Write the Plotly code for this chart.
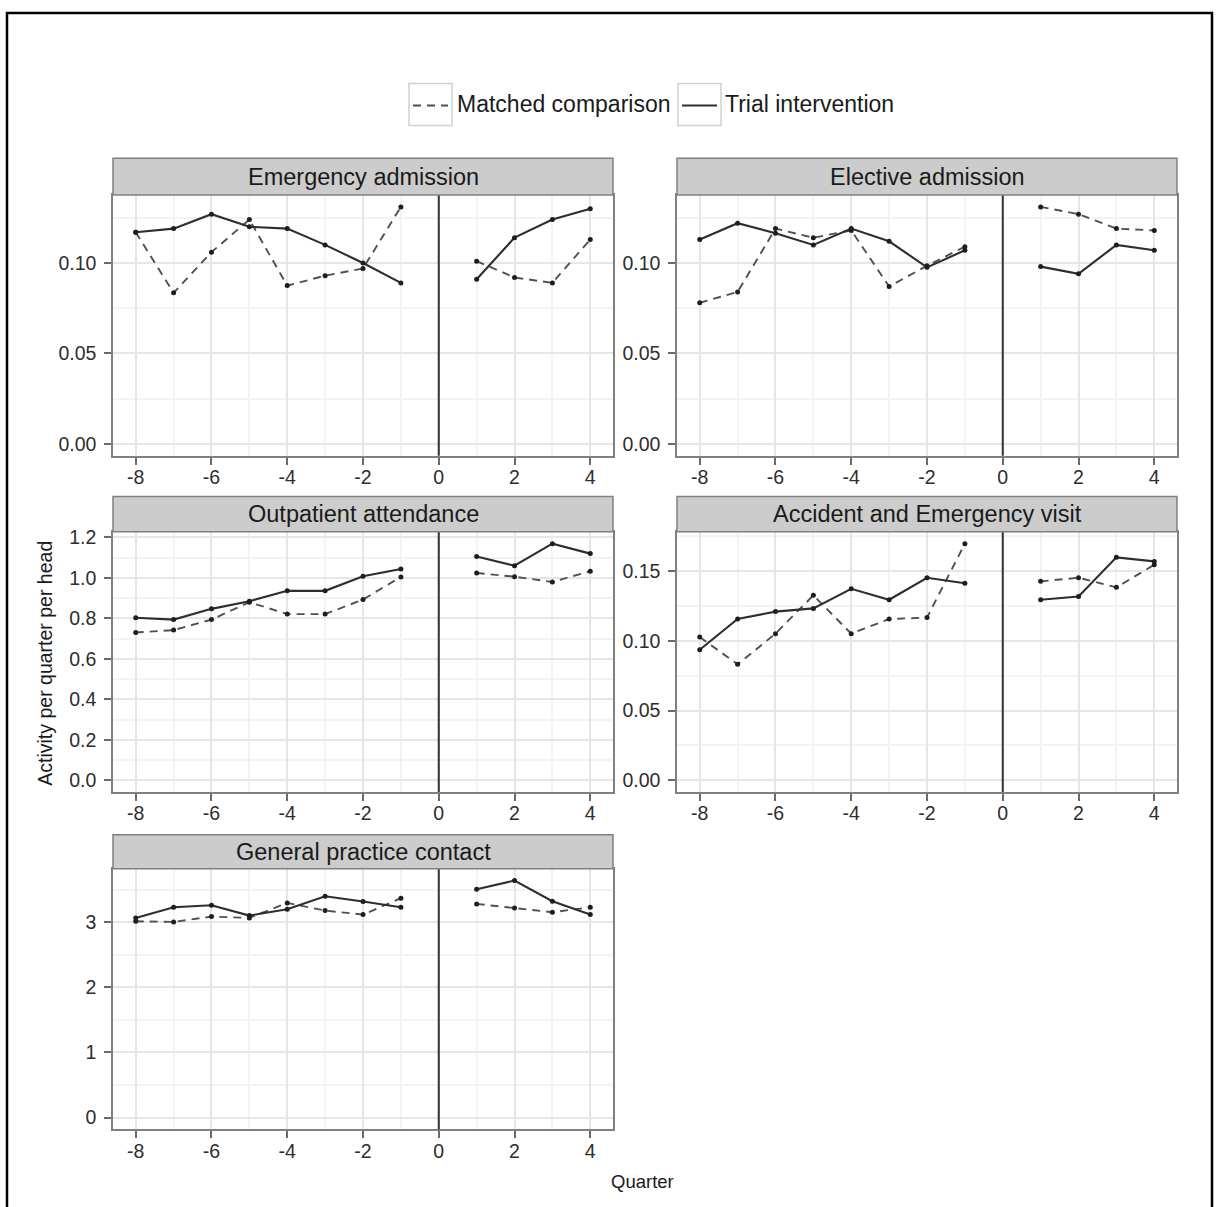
import plotly.graph_objects as go

# Canvas size in pixels
W, H = 1220, 1207

# ---- data -------------------------------------------------------------
# Quarter relative to start of intervention (no quarter 0)
quarters = [-8, -7, -6, -5, -4, -3, -2, -1, 1, 2, 3, 4]

series_names = ["Matched comparison", "Trial intervention"]

panel_titles = [
    "Emergency admission",
    "Elective admission",
    "Outpatient attendance",
    "Accident and Emergency visit",
    "General practice contact",
]

emergency_trial = [0.117, 0.119, 0.127, 0.120, 0.119, 0.110, 0.100, 0.089, 0.091, 0.114, 0.124, 0.130]
emergency_matched = [0.117, 0.0835, 0.106, 0.124, 0.0875, 0.093, 0.097, 0.131, 0.101, 0.092, 0.089, 0.113]

elective_trial = [0.113, 0.122, 0.1165, 0.110, 0.119, 0.112, 0.0976, 0.107, 0.098, 0.094, 0.110, 0.107]
elective_matched = [0.078, 0.084, 0.119, 0.114, 0.118, 0.087, 0.0985, 0.109, 0.131, 0.127, 0.119, 0.118]

outpatient_trial = [0.803, 0.794, 0.847, 0.885, 0.936, 0.936, 1.008, 1.044, 1.106, 1.060, 1.169, 1.120]
outpatient_matched = [0.730, 0.742, 0.794, 0.880, 0.821, 0.821, 0.893, 1.005, 1.024, 1.006, 0.980, 1.033]

ae_trial = [0.0936, 0.1156, 0.1209, 0.1232, 0.1373, 0.1294, 0.1452, 0.1412, 0.1294, 0.1318, 0.1598, 0.1569]
ae_matched = [0.1027, 0.0831, 0.1051, 0.1326, 0.1051, 0.1156, 0.1166, 0.1696, 0.1426, 0.1452, 0.1383, 0.1545]

gp_trial = [3.067, 3.231, 3.262, 3.103, 3.200, 3.400, 3.318, 3.231, 3.508, 3.641, 3.323, 3.118]
gp_matched = [3.015, 3.005, 3.087, 3.067, 3.297, 3.179, 3.118, 3.369, 3.282, 3.221, 3.154, 3.231]

x_ticks = [-8, -6, -4, -2, 0, 2, 4]

# ---- styling ----------------------------------------------------------
FONT = "Liberation Sans, Arial, Helvetica, sans-serif"
TEXT = "#2e2e2e"
BORDER = "#808080"
GRID_MAJOR = "#e6e6e6"
GRID_MINOR = "#f3f3f3"

def px(xp):
    return xp / W

def py(yp):
    return 1 - yp / H

# column pixel extents, row pixel extents (strip top, plot top, plot bottom)
cols = [(113, 613), (677, 1177)]
rows = [(153, 190, 452), (493, 528.5, 790), (833, 867, 1129)]

# title, trial, matched, dtick, format, minor dtick, row, col
panels = [
    (panel_titles[0], emergency_trial, emergency_matched, 0.05, ".2f", 0.025, 0, 0),
    (panel_titles[1], elective_trial, elective_matched, 0.05, ".2f", 0.025, 0, 1),
    (panel_titles[2], outpatient_trial, outpatient_matched, 0.2, ".1f", 0.1, 1, 0),
    (panel_titles[3], ae_trial, ae_matched, 0.05, ".2f", 0.025, 1, 1),
    (panel_titles[4], gp_trial, gp_matched, 1, "d", 0.5, 2, 0),
]


def with_gap(vals):
    """Insert quarter 0 as a break so lines are drawn before/after separately."""
    xs = quarters[:8] + [0] + quarters[8:]
    ys = list(vals[:8]) + [None] + list(vals[8:])
    return xs, ys


fig = go.Figure()
shapes = []
annotations = []
layout_axes = {}

for i, (title, trial, matched, dtick, fmt, mdtick, r, c) in enumerate(panels, start=1):
    xa = "x" if i == 1 else f"x{i}"
    ya = "y" if i == 1 else f"y{i}"
    x0p, x1p = cols[c]
    s_top, p_top, p_bot = rows[r]

    # y-range: include zero, pad 5% each side
    lo = min(0, min(trial), min(matched))
    hi = max(max(trial), max(matched))
    pad = (hi - lo) * 0.05
    yrange = [lo - pad, hi + pad]

    common_axis = dict(
        showline=True, mirror=True, linecolor=BORDER, linewidth=1.5,
        ticks="outside", ticklen=7, tickwidth=1.5, tickcolor="#6a6a6a",
        showgrid=True, gridcolor=GRID_MAJOR, gridwidth=1.5,
        zeroline=False,
        tickfont=dict(family=FONT, size=19.5, color=TEXT),
    )

    layout_axes["xaxis" if i == 1 else f"xaxis{i}"] = dict(
        domain=[px(x0p), px(x1p)], anchor=ya, range=[-8.6, 4.6],
        tickmode="array", tickvals=x_ticks, ticktext=[str(t) for t in x_ticks],
        minor=dict(dtick=1, tick0=0, showgrid=True, gridcolor=GRID_MINOR, gridwidth=1.5),
        ticklabelstandoff=-4,
        **common_axis,
    )
    layout_axes["yaxis" if i == 1 else f"yaxis{i}"] = dict(
        domain=[py(p_bot), py(p_top)], anchor=xa, range=yrange,
        tick0=0, dtick=dtick, tickformat=fmt,
        minor=dict(dtick=mdtick, tick0=0, showgrid=True, gridcolor=GRID_MINOR, gridwidth=1.5),
        ticklabelstandoff=4,
        **common_axis,
    )

    # matched comparison (dashed)
    xs, ys = with_gap(matched)
    fig.add_trace(go.Scatter(
        x=xs, y=ys, xaxis=xa, yaxis=ya, mode="lines+markers",
        name=series_names[0], showlegend=False, connectgaps=False,
        line=dict(color="#505050", width=1.9, dash="8px,6px"),
        marker=dict(color="#1e1e1e", size=5),
    ))
    # trial intervention (solid)
    xs, ys = with_gap(trial)
    fig.add_trace(go.Scatter(
        x=xs, y=ys, xaxis=xa, yaxis=ya, mode="lines+markers",
        name=series_names[1], showlegend=False, connectgaps=False,
        line=dict(color="#2e2e2e", width=2.1),
        marker=dict(color="#1e1e1e", size=5),
    ))

    # intervention start marker line at quarter 0
    shapes.append(dict(
        type="line", xref=xa, yref=f"{ya} domain", x0=0, x1=0, y0=0, y1=1,
        line=dict(color="#333333", width=2), layer="above",
    ))

    # facet strip
    shapes.append(dict(
        type="rect", xref="paper", yref="paper",
        x0=px(x0p), x1=px(x1p), y0=py(p_top), y1=py(s_top),
        fillcolor="#cccccc", line=dict(color=BORDER, width=1.5), layer="above",
    ))
    annotations.append(dict(
        text=title, xref="paper", yref="paper",
        x=px((x0p + x1p) / 2), y=py((s_top + p_top) / 2),
        xanchor="center", yanchor="middle", showarrow=False,
        font=dict(family=FONT, size=23.5, color="#1a1a1a"),
    ))

# ---- legend (keys drawn in boxes) ---------------------------------------
legend_y = 100
key_boxes = [(409, 452, "8px,6px", "#505050", 455, series_names[0]),
             (678, 721, "solid", "#2e2e2e", 723, series_names[1])]
for bx0, bx1, dash, color, tx, label in key_boxes:
    shapes.append(dict(
        type="rect", xref="paper", yref="paper",
        x0=px(bx0), x1=px(bx1), y0=py(120), y1=py(78),
        fillcolor="white", line=dict(color="#d0d0d0", width=1.5),
    ))
    shapes.append(dict(
        type="line", xref="paper", yref="paper",
        x0=px(bx0 + 4), x1=px(bx1 - 4), y0=py(legend_y), y1=py(legend_y),
        line=dict(color=color, width=1.8, dash=dash),
    ))
    annotations.append(dict(
        text=label, xref="paper", yref="paper", x=px(tx), y=py(legend_y - 2),
        xanchor="left", yanchor="middle", showarrow=False,
        font=dict(family=FONT, size=23, color="#1a1a1a"),
    ))

# ---- axis titles ------------------------------------------------------
annotations.append(dict(
    text="Quarter", xref="paper", yref="paper", x=px(642), y=py(1181),
    xanchor="center", yanchor="middle", showarrow=False,
    font=dict(family=FONT, size=18.5, color="#1a1a1a"),
))
annotations.append(dict(
    text="Activity per quarter per head", xref="paper", yref="paper",
    x=px(45), y=py(661), xanchor="center", yanchor="middle", textangle=-90,
    showarrow=False, font=dict(family=FONT, size=19.5, color="#1a1a1a"),
))

# outer frame
shapes.append(dict(
    type="rect", xref="paper", yref="paper",
    x0=px(7), x1=px(1212), y0=-0.02, y1=py(7),
    line=dict(color="black", width=2.5), fillcolor="rgba(0,0,0,0)",
))

fig.update_layout(
    width=W, height=H, autosize=False,
    margin=dict(l=0, r=0, t=0, b=0),
    paper_bgcolor="white", plot_bgcolor="white",
    showlegend=False,
    shapes=shapes, annotations=annotations,
    font=dict(family=FONT, color=TEXT),
    **layout_axes,
)

fig.write_html("out.html")
